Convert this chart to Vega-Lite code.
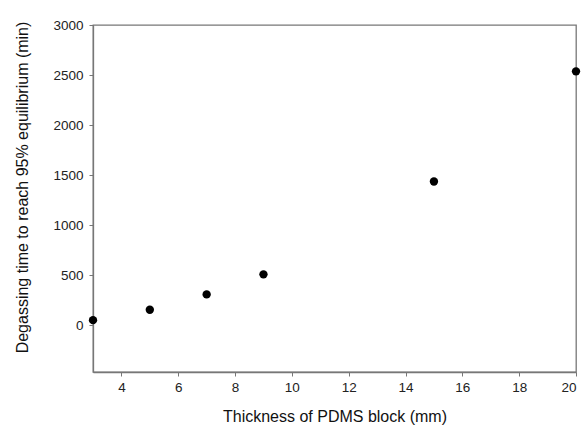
{
  "$schema": "https://vega.github.io/schema/vega-lite/v6.json",
  "width": 483,
  "height": 347,
  "autosize": {"type": "none"},
  "padding": {"left": 93, "top": 25, "right": 8, "bottom": 57},
  "background": "white",
  "config": {
    "view": {"stroke": "#777777", "strokeWidth": 1.3},
    "font": "Liberation Sans"
  },
  "data": {
    "values": [
      {"thickness": 3, "time": 53},
      {"thickness": 5, "time": 157},
      {"thickness": 7, "time": 310},
      {"thickness": 9, "time": 510},
      {"thickness": 15, "time": 1437},
      {"thickness": 20, "time": 2537}
    ]
  },
  "mark": {"type": "point", "filled": true, "color": "black", "size": 70, "opacity": 1, "clip": false},
  "encoding": {
    "x": {
      "field": "thickness", "type": "quantitative",
      "scale": {"domain": [3, 20], "nice": false, "zero": false},
      "axis": {
        "title": "Thickness of PDMS block (mm)",
        "values": [4, 6, 8, 10, 12, 14, 16, 18, 20], "format": "d",
        "grid": false, "domainColor": "#777777", "tickColor": "#777777", "domainWidth": 1.3,
        "tickSize": 4, "labelPadding": 4, "labelFontSize": 13.5, "labelColor": "#222222",
        "titleFontSize": 16, "titleFontWeight": "normal", "titleColor": "#111111", "titlePadding": 15
      }
    },
    "y": {
      "field": "time", "type": "quantitative",
      "scale": {"domain": [-465, 3000], "nice": false, "zero": false},
      "axis": {
        "title": "Degassing time to reach 95% equilibrium (min)",
        "values": [0, 500, 1000, 1500, 2000, 2500, 3000], "format": "d",
        "grid": false, "domainColor": "#777777", "tickColor": "#777777", "domainWidth": 1.3,
        "tickSize": 4, "labelPadding": 6, "labelFontSize": 13.5, "labelColor": "#222222",
        "titleFontSize": 16, "titleFontWeight": "normal", "titleColor": "#111111", "titlePadding": 22,
        "titleY": 162
      }
    }
  }
}
